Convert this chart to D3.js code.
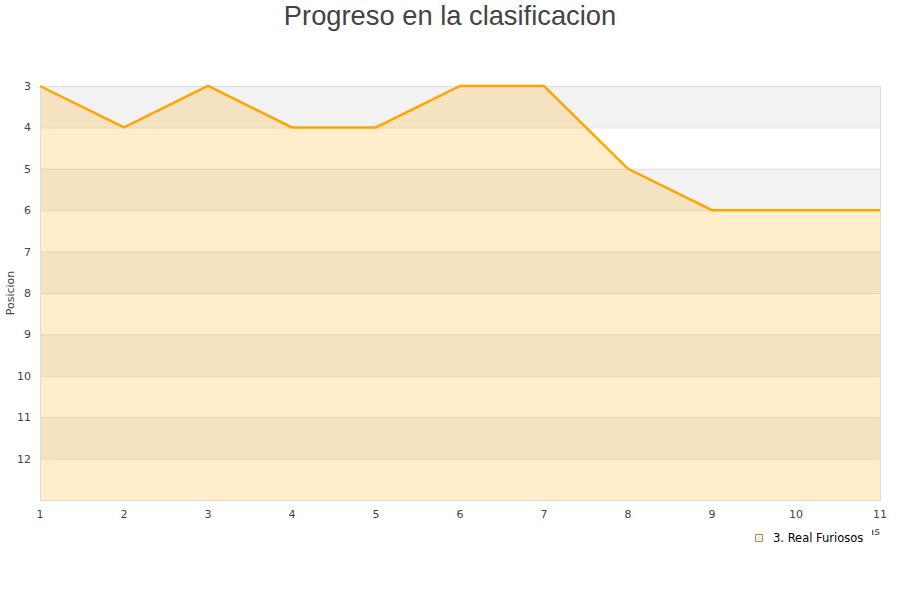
<!DOCTYPE html>
<html><head><meta charset="utf-8">
<script src="https://cdn.jsdelivr.net/npm/d3@7"></script>
<style>body{margin:0;background:#fff}svg{display:block}</style>
</head><body>
<svg id="c" width="900" height="600"></svg>
<script>
const jornadas = [1,2,3,4,5,6,7,8,9,10,11];
const posiciones = [3,4,3,4,4,3,3,5,6,6,6];
const yTicks = [3,4,5,6,7,8,9,10,11,12];
const seriesName = "3. Real Furiosos";
const title = "Progreso en la clasificacion";
const yTitle = "Posicion";
const xTitle = "Jornadas";

const svg = d3.select("#c");
const m = {l:40, r:880, t:86, b:500};
const x = d3.scaleLinear().domain([1,11]).range([m.l, m.r]);
const y = d3.scaleLinear().domain([3,13]).range([m.t, m.b]);

// bands
const bands = d3.range(3,13);
svg.selectAll("rect.band").data(bands).enter().append("rect")
  .attr("x", m.l).attr("width", m.r-m.l)
  .attr("y", d=>y(d)).attr("height", d=>y(d+1)-y(d))
  .attr("fill", (d,i)=> i%2===0 ? "#f2f2f2" : "#ffffff");
// grid lines
svg.selectAll("line.grid").data(yTicks).enter().append("line")
  .attr("x1", m.l).attr("x2", m.r)
  .attr("y1", d=>y(d)+0.5).attr("y2", d=>y(d)+0.5)
  .attr("stroke", "#e0e0e0").attr("stroke-width",1);

const pts = jornadas.map((j,i)=>[j, posiciones[i]]);
const area = d3.area().x(d=>x(d[0])).y0(y(13)).y1(d=>y(d[1]));
svg.append("path").datum(pts).attr("d", area).attr("fill","rgba(255,165,0,0.2)");

// border
svg.append("rect").attr("x", m.l+0.5).attr("y", m.t+0.5).attr("width", m.r-m.l).attr("height", m.b-m.t)
  .attr("fill","none").attr("stroke","#dddddd");

const line = d3.line().x(d=>x(d[0])).y(d=>y(d[1]));
svg.append("path").datum(pts).attr("d", line).attr("fill","none")
  .attr("stroke","#ffa500").attr("stroke-width",2.5);

// y ticks
svg.selectAll("text.yt").data(yTicks).enter().append("text")
  .attr("x", 31).attr("y", d=>y(d)+4).attr("text-anchor","end")
  .attr("font-family","DejaVu Sans").attr("font-size",11).attr("fill","#444")
  .text(d=>d);
// x ticks
svg.selectAll("text.xt").data(jornadas).enter().append("text")
  .attr("x", d=>x(d)).attr("y", 518).attr("text-anchor","middle")
  .attr("font-family","DejaVu Sans").attr("font-size",11).attr("fill","#444")
  .text(d=>d);

// y title
svg.append("text").attr("transform","translate(14,293) rotate(-90)")
  .attr("text-anchor","middle").attr("font-family","DejaVu Sans").attr("font-size",11).attr("fill","#444")
  .text(yTitle);

// x title (mostly hidden by legend)
svg.append("text").attr("x", 880).attr("y", 535).attr("text-anchor","end")
  .attr("font-family","DejaVu Sans").attr("font-size",11).attr("fill","#444")
  .text(xTitle);

// legend
svg.append("rect").attr("x", 745).attr("y", 527).attr("width", 127).attr("height", 22).attr("fill","#fff");
svg.append("rect").attr("x", 755.5).attr("y", 534.5).attr("width", 7).attr("height", 7)
  .attr("fill","#feecca").attr("stroke","#999");
svg.append("text").attr("x", 773).attr("y", 542)
  .attr("font-family","DejaVu Sans").attr("font-size",11.5).attr("fill","#000")
  .text(seriesName);

// title
svg.append("text").attr("x", 450).attr("y", 25).attr("text-anchor","middle")
  .attr("font-family","Liberation Sans").attr("font-size",27.3).attr("fill","#444")
  .text(title);
</script>
</body></html>
